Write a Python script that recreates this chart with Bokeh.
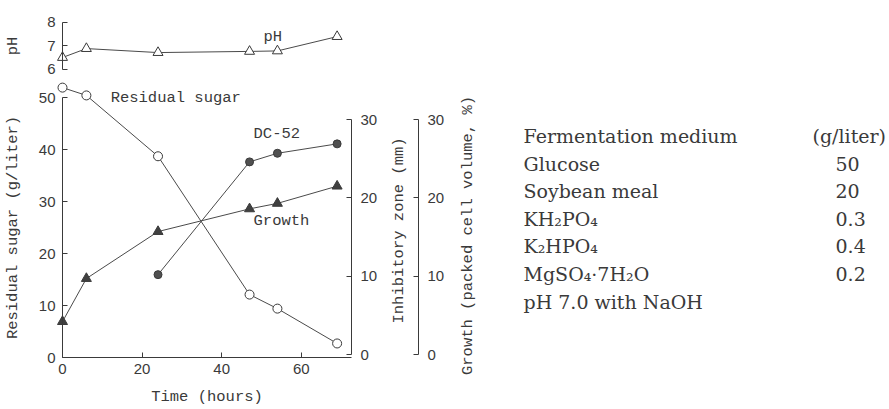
from math import pi
from bokeh.plotting import figure
from bokeh.models import Range1d, LinearAxis, FixedTicker, Label, ColumnDataSource
from bokeh.layouts import row
from bokeh.embed import file_html
from bokeh.resources import INLINE
from bokeh.core.properties import value

# ---------------- data ----------------
time_h = [0, 6, 24, 47, 54, 69]
residual_sugar = [51.9, 50.4, 38.7, 12.1, 9.4, 2.7]      # g/liter
ph_values = [6.51, 6.89, 6.72, 6.77, 6.79, 7.40]
growth_pcv = [4.2, 9.7, 15.7, 18.6, 19.3, 21.5]           # packed cell volume, %
dc52_time_h = [24, 47, 54, 69]
dc52_zone_mm = [10.2, 24.6, 25.7, 26.9]                   # inhibitory zone, mm

x_ticks = [0, 20, 40, 60]
sugar_ticks = [0, 10, 20, 30, 40, 50]
zone_ticks = [0, 10, 20, 30]
growth_ticks = [0, 10, 20, 30]
ph_ticks = [6, 7, 8]

medium_title = "Fermentation medium"
medium_unit = "(g/liter)"
medium_components = ["Glucose", "Soybean meal", "KH\u2082PO\u2084", "K\u2082HPO\u2084", "MgSO\u2084\u00b77H\u2082O"]
medium_amounts = ["50", "20", "0.3", "0.4", "0.2"]
medium_note = "pH 7.0 with NaOH"

# ---------------- styles ----------------
MONO = "Liberation Mono"
SANS = "Liberation Sans"
SERIF = "DejaVu Serif"
INK = "#3a3a3a"
LINE = "#4a4a4a"
MONO_SIZE = "15.5px"
TICK_SIZE = "15px"

W, H = 482, 406

p = figure(width=W, height=H,
           x_range=Range1d(-15.578, 105.528), y_range=Range1d(-9.423, 68.654),
           x_axis_location=None, y_axis_location=None,
           toolbar_location=None, output_backend="svg", min_border=0)
p.extra_y_ranges = {
    "zone": Range1d(-6.641, 45.211),
    "growth": Range1d(-6.641, 45.211),
    "ph": Range1d(-8.340, 8.936),
}
p.outline_line_color = None
p.grid.visible = False
p.background_fill_color = "white"
p.border_fill_color = "white"


def style_axis(ax, standoff):
    ax.axis_line_color = INK
    ax.axis_line_width = 1
    ax.major_tick_line_color = INK
    ax.major_tick_in = 5
    ax.major_tick_out = 0
    ax.minor_tick_line_color = None
    ax.major_label_text_font = SANS
    ax.major_label_text_font_size = TICK_SIZE
    ax.major_label_text_color = INK
    ax.major_label_standoff = standoff
    ax.axis_label_text_font = MONO
    ax.axis_label_text_font_size = MONO_SIZE
    ax.axis_label_text_font_style = "normal"
    ax.axis_label_text_color = INK


time_ax = LinearAxis(fixed_location=0, bounds=(0, 72.6), ticker=FixedTicker(ticks=x_ticks))
style_axis(time_ax, 6)
time_ax.axis_label = "Time (hours)"
time_ax.axis_label_standoff = 11
p.add_layout(time_ax, "below")

sugar_ax = LinearAxis(fixed_location=0, bounds=(0, 50), ticker=FixedTicker(ticks=sugar_ticks))
style_axis(sugar_ax, 7)
sugar_ax.axis_label = "Residual sugar (g/liter)"
sugar_ax.axis_label_standoff = 14
p.add_layout(sugar_ax, "left")

ph_ax = LinearAxis(y_range_name="ph", fixed_location=0, bounds=(6, 8), ticker=FixedTicker(ticks=ph_ticks))
style_axis(ph_ax, 7)
ph_ax.axis_label = "pH"
ph_ax.axis_label_standoff = 22
p.add_layout(ph_ax, "left")

zone_ax = LinearAxis(y_range_name="zone", fixed_location=72.6, bounds=(0, 30), ticker=FixedTicker(ticks=zone_ticks))
style_axis(zone_ax, 9)
p.add_layout(zone_ax, "right")

growth_ax = LinearAxis(y_range_name="growth", fixed_location=89.45, bounds=(0, 30), ticker=FixedTicker(ticks=growth_ticks))
style_axis(growth_ax, 9)
p.add_layout(growth_ax, "right")

# ---------------- series ----------------
p.line(time_h, residual_sugar, line_color=LINE, line_width=1)
p.scatter(time_h, residual_sugar, marker="circle", size=9, fill_color="white", line_color=INK, line_width=1)

p.line(time_h, ph_values, y_range_name="ph", line_color=LINE, line_width=1)
p.scatter(time_h, ph_values, y_range_name="ph", marker="triangle", size=10, fill_color="white", line_color=INK, line_width=1)

p.line(time_h, growth_pcv, y_range_name="growth", line_color=LINE, line_width=1)
p.scatter(time_h, growth_pcv, y_range_name="growth", marker="triangle", size=10, fill_color="#404040", line_color=INK, line_width=1)

p.line(dc52_time_h, dc52_zone_mm, y_range_name="zone", line_color=LINE, line_width=1)
p.scatter(dc52_time_h, dc52_zone_mm, y_range_name="zone", marker="circle", size=8, fill_color="#505050", line_color=INK, line_width=1)

# ---------------- text labels ----------------
def add_label(text, x, y, rng=None, **kw):
    opts = dict(text=text, x=x, y=y, text_font=MONO, text_font_size=MONO_SIZE, text_color=INK,
                text_baseline="middle")
    if rng:
        opts["y_range_name"] = rng
    opts.update(kw)
    p.add_layout(Label(**opts))

add_label("Residual sugar", 12.1, 50.0)
add_label("DC-52", 48.0, 28.1, "zone")
add_label("Growth", 48.0, 17.1, "growth")
add_label("pH", 50.5, 7.40, "ph")
add_label("Inhibitory zone (mm)", 84.67, 15.84, "zone", angle=pi / 2, text_align="center")
add_label("Growth (packed cell volume, %)", 101.76, 15.2, "growth", angle=pi / 2, text_align="center")

# ---------------- medium table ----------------
TW = 406
p_tab = figure(width=TW, height=H, x_range=Range1d(0, TW), y_range=Range1d(9.818, -4.945),
               x_axis_location=None, y_axis_location=None, toolbar_location=None,
               output_backend="svg", min_border=0)
p_tab.outline_line_color = None
p_tab.grid.visible = False

rows = list(range(1, len(medium_components) + 1))
src = ColumnDataSource(dict(name=medium_components, amount=medium_amounts, row=rows))
tab_style = dict(text_font=value(SERIF), text_font_size="19px", text_color=INK, text_baseline="alphabetic")
p_tab.text(x=41, y="row", text="name", source=src, **tab_style)
p_tab.text(x=353, y="row", text="amount", source=src, **tab_style)
p_tab.text(x=[41, 330], y=[0, 0], text=[medium_title, medium_unit], **tab_style)
p_tab.text(x=[41], y=[len(medium_components) + 1], text=[medium_note], **tab_style)

layout = row(p, p_tab)
open("out.html", "w").write(file_html(layout, INLINE, title="Fermentation"))
